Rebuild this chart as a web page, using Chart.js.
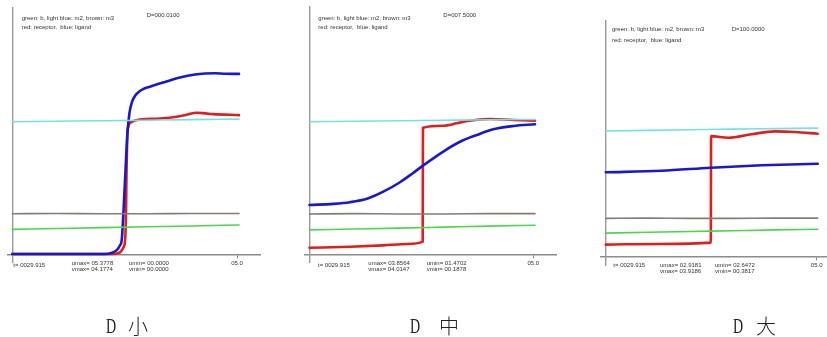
<!DOCTYPE html>
<html><head><meta charset="utf-8">
<script src="https://cdn.jsdelivr.net/npm/chart.js@4.4.1/dist/chart.umd.min.js"></script>
<style>
html,body{margin:0;padding:0;background:#fff;width:827px;height:337px;overflow:hidden;position:relative;}
canvas{position:absolute;left:0;top:0;}
.t{position:absolute;font-family:"Liberation Sans",Arial,sans-serif;font-size:6px;line-height:7px;color:#333;white-space:pre;}
.cap{position:absolute;top:313px;font-size:20px;line-height:26px;color:#222;white-space:pre;}
.capD{font-family:"Liberation Serif",serif;display:inline-block;transform:scaleX(0.7);transform-origin:left center;}
.capC{font-family:"Noto Sans CJK SC","Noto Sans CJK JP",sans-serif;font-weight:300;}
</style></head>
<body>
<canvas id="c1" width="827" height="300"></canvas>
<canvas id="c2" width="827" height="300"></canvas>
<canvas id="c3" width="827" height="300"></canvas>
<div id="texts"></div>
<script>
// ---------- data (t in time units, values in model units) ----------
const legendLine1 = "green: b, light blue: m2, brown: m3";
const legendLine2 = "red: receptor,  blue: ligand";
const dLabels = ["D=000.0100", "D=007.5000", "D=100.0000"];
const tLabels = ["t= 0029.915", "t= 0029.915", "t= 0029.915"];
const umaxLabels = ["umax= 05.3778", "umax= 03.8564", "umax= 02.9181"];
const vmaxLabels = ["vmax= 04.1774", "vmax= 04.0147", "vmax= 03.9186"];
const uminLabels = ["umin= 00.0000", "umin= 01.4702", "umin= 02.6472"];
const vminLabels = ["vmin= 00.0000", "vmin= 00.1878", "vmin= 00.3817"];
const captionD = ["D", "D", "D"];
const captionSize = ["小", "中", "大"];
const xTickValues = [5];

// panel 1 (D small)
const p1BlueT = [0, 1.0, 2.063, 2.218, 2.330, 2.397, 2.435, 2.475, 2.519, 2.563, 2.608, 2.664, 2.730, 2.800, 2.900, 3.064, 3.398, 3.732, 4.066, 4.288, 4.511, 4.734, 5.045];
const p1Blue  = [0.02, 0.02, 0.02, 0.06, 0.14, 0.28, 0.43, 1.3, 2.5, 3.6, 4.2, 4.52, 4.70, 4.80, 4.89, 4.97, 5.11, 5.24, 5.33, 5.36, 5.37, 5.355, 5.35];
const p1RedT  = [0, 1.0, 2.218, 2.352, 2.419, 2.475, 2.508, 2.530, 2.541, 2.557, 2.581, 2.657, 2.841, 3.286, 3.658, 3.900, 4.103, 4.300, 4.466, 5.045];
const p1Red   = [0.02, 0.02, 0.02, 0.04, 0.1, 0.22, 0.4, 1.2, 2.4, 3.5, 3.79, 3.93, 4.0, 4.03, 4.08, 4.15, 4.2, 4.18, 4.16, 4.13];
const p1LineT = [0, 1, 2, 3, 4, 5.045];
const p1Cyan  = [3.935, 3.95, 3.965, 3.98, 3.995, 4.01];
const p1Brown = [1.21, 1.22, 1.21, 1.21, 1.22, 1.22];
const p1Green = [0.75, 0.775, 0.80, 0.825, 0.85, 0.88];

// panel 2 (D medium)
const p2BlueT = [0, 0.532, 0.905, 1.3, 1.649, 2.022, 2.3, 2.542, 2.989, 3.362, 3.736, 4.106, 4.553, 5.038];
const p2Blue  = [1.466, 1.50, 1.55, 1.66, 1.86, 2.14, 2.40, 2.64, 3.05, 3.34, 3.54, 3.709, 3.806, 3.857];
const p2RedT  = [0, 0.905, 1.649, 2.20, 2.529, 2.535, 2.982, 3.289, 3.527, 3.800, 4.033, 4.553, 5.038];
const p2Red   = [0.20, 0.23, 0.27, 0.31, 0.38, 3.756, 3.815, 3.886, 3.954, 4.00, 4.014, 3.984, 3.963];
const p2LineT = [0, 1, 2, 3, 4, 5.038];
const p2Cyan  = [3.93, 3.945, 3.96, 3.975, 3.99, 4.00];
const p2Brown = [1.20, 1.21, 1.20, 1.20, 1.21, 1.21];
const p2Green = [0.73, 0.755, 0.78, 0.81, 0.84, 0.865];

// panel 3 (D large)
const p3BlueT = [0, 1.325, 2.494, 3.696, 5.024];
const p3Blue  = [2.646, 2.696, 2.79, 2.865, 2.915];
const p3RedT  = [0, 1.31, 2.490, 2.496, 2.905, 3.459, 4.011, 4.486, 5.024];
const p3Red   = [0.38, 0.40, 0.44, 3.78, 3.73, 3.84, 3.93, 3.91, 3.856];
const p3LineT = [0, 1, 2, 3, 4, 5.024];
const p3Cyan  = [3.94, 3.96, 3.98, 4.0, 4.015, 4.03];
const p3Brown = [1.20, 1.21, 1.20, 1.20, 1.21, 1.21];
const p3Green = [0.74, 0.765, 0.79, 0.815, 0.84, 0.86];

// ---------- layout (page pixels) ----------
const panels = [
  {id:"c1", L:8,   R:260, T:8,  B:262, x0:12.3,  x5:237,   y0:254.7, ky:33.8,
   blueT:p1BlueT, blue:p1Blue, redT:p1RedT, red:p1Red, lineT:p1LineT, cyan:p1Cyan, brown:p1Brown, green:p1Green},
  {id:"c2", L:305, R:556, T:7,  B:262, x0:309.5, x5:533.3, y0:254.5, ky:33.76,
   blueT:p2BlueT, blue:p2Blue, redT:p2RedT, red:p2Red, lineT:p2LineT, cyan:p2Cyan, brown:p2Brown, green:p2Green},
  {id:"c3", L:601, R:827, T:21, B:265, x0:605.8, x5:816.7, y0:256.7, ky:31.9,
   blueT:p3BlueT, blue:p3Blue, redT:p3RedT, red:p3Red, lineT:p3LineT, cyan:p3Cyan, brown:p3Brown, green:p3Green}
];
const textPos = [
  {lx:21.7, ly1:14.8, ly2:23.5, dx:146.7, dy:11.5, tx:13.3, ty:261.5, ux:71.7, uy1:259.8, uy2:266.2, mx:129, my1:259.8, my2:266.2},
  {lx:318.3, ly1:14.8, ly2:23.8, dx:443.3, dy:11.5, tx:318, ty:261.5, ux:368.3, uy1:259.8, uy2:266.2, mx:426.7, my1:259.8, my2:266.2},
  {lx:612, ly1:25.8, ly2:36.5, dx:731.7, dy:25.8, tx:613.3, ty:262.2, ux:660, uy1:261.5, uy2:268, mx:715, my1:261.5, my2:268}
];
const capPos = [{d:106, c:128}, {d:410, c:439}, {d:733, c:756}];

const zip = (t, v) => t.map((x, i) => ({x: x, y: v[i]}));
const W = 827, H = 300;

panels.forEach((p, i) => {
  const kx = (p.x5 - p.x0) / 5;
  const xmin = (p.L - p.x0) / kx, xmax = (p.R - p.x0) / kx;
  const ymax = (p.y0 - p.T) / p.ky, ymin = (p.y0 - p.B) / p.ky;
  const thin = 1.6, thick = 2.6;
  const mk = (data, color, w) => ({data: data, borderColor: color, borderWidth: w, pointRadius: 0,
    cubicInterpolationMode: 'monotone', fill: false, borderCapStyle: 'round', borderJoinStyle: 'round'});
  new Chart(document.getElementById(p.id), {
    type: 'line',
    data: {datasets: [
      mk(zip(p.lineT, p.brown), '#8a7a6e', thin),
      mk(zip(p.lineT, p.green), '#48d84a', thin),
      mk(zip(p.lineT, p.cyan), '#72e2e6', thin),
      mk(zip(p.blueT, p.blue), '#1818d0', thick),
      mk(zip(p.redT, p.red), '#e01e1e', thick)
    ]},
    options: {
      responsive: false, animation: false, events: [], devicePixelRatio: 1,
      layout: {padding: {left: p.L, right: W - p.R, top: p.T, bottom: H - p.B}},
      plugins: {legend: {display: false}, tooltip: {enabled: false}, title: {display: false}},
      scales: {
        x: {type: 'linear', min: xmin, max: xmax, position: {y: 0},
            afterBuildTicks: s => { s.ticks = xTickValues.map(v => ({value: v})); },
            grid: {display: true, drawOnChartArea: false, drawTicks: true, tickLength: 3, color: '#888', lineWidth: 1},
            border: {display: true, color: '#8c8c8c', width: 1.4},
            ticks: {font: {family: 'Liberation Sans', size: 6}, color: '#333', padding: 2, maxRotation: 0,
                    callback: v => '0' + Number(v).toFixed(1)}},
        y: {type: 'linear', min: ymin, max: ymax, position: {x: 0},
            grid: {display: false},
            border: {display: true, color: '#9a9a9a', width: 1.4},
            ticks: {display: false}}
      }
    }
  });

  const tp = textPos[i];
  const box = document.getElementById('texts');
  const add = (txt, x, y) => { const d = document.createElement('div'); d.className = 't';
    d.textContent = txt; d.style.left = x + 'px'; d.style.top = y + 'px'; box.appendChild(d); };
  add(legendLine1, tp.lx, tp.ly1);
  add(legendLine2, tp.lx, tp.ly2);
  add(dLabels[i], tp.dx, tp.dy);
  add(tLabels[i], tp.tx, tp.ty);
  add(umaxLabels[i], tp.ux, tp.uy1);
  add(vmaxLabels[i], tp.ux, tp.uy2);
  add(uminLabels[i], tp.mx, tp.my1);
  add(vminLabels[i], tp.mx, tp.my2);

  const cp = capPos[i];
  const c1 = document.createElement('div'); c1.className = 'cap';
  c1.innerHTML = '<span class="capD"></span>'; c1.firstChild.textContent = captionD[i];
  c1.style.left = cp.d + 'px'; box.appendChild(c1);
  const c2 = document.createElement('div'); c2.className = 'cap capC';
  c2.textContent = captionSize[i]; c2.style.left = cp.c + 'px'; box.appendChild(c2);
});
</script>
</body></html>
